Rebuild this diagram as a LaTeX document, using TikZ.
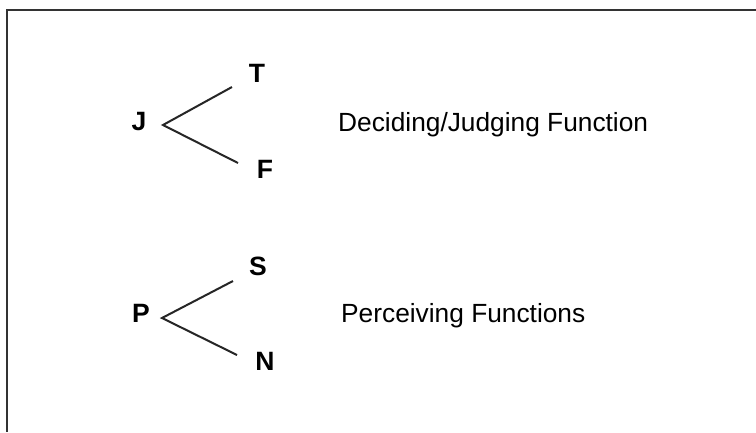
\documentclass[tikz,border=0pt]{standalone}
\usepackage{fontspec}
\setmainfont{Liberation Sans}
\begin{document}
\begin{tikzpicture}[x=1pt,y=-1pt,
  letter/.style={font=\fontsize{26.5}{30}\selectfont\bfseries, inner sep=0pt, anchor=base},
  label/.style={font=\fontsize{26.3}{30}\selectfont, inner sep=0pt, anchor=base west},
  branch/.style={line width=2pt, black!85},
  frame/.style={line width=2.2pt, black!80}]
\useasboundingbox (0,0) rectangle (756,432);
\fill[white] (0,0) rectangle (756,432);
% frame (top and left edges visible)
\coordinate (ftr) at (756,10);
\coordinate (ftl) at (7,10);
\coordinate (fbl) at (7,432);
\draw[frame] (ftr) -- (ftl) -- (fbl);
% judging group
\node[letter] (J) at (139,130) {J};
\node[letter] (T) at (257,82) {T};
\node[letter] (F) at (265,178) {F};
\node[label] (dj) at (338,131) {Deciding/Judging Function};
\coordinate (ja) at (163,125);
\coordinate (jt) at (232,87);
\coordinate (jf) at (238,163);
\draw[branch] (jt) -- (ja) -- (jf);
% perceiving group
\node[letter] (P) at (141,322) {P};
\node[letter] (S) at (258,275) {S};
\node[letter] (N) at (265,370) {N};
\node[label] (pf) at (341,322) {Perceiving Functions};
\coordinate (pa) at (162,318);
\coordinate (ps) at (233,281);
\coordinate (pn) at (237,355);
\draw[branch] (ps) -- (pa) -- (pn);
\end{tikzpicture}
\end{document}
